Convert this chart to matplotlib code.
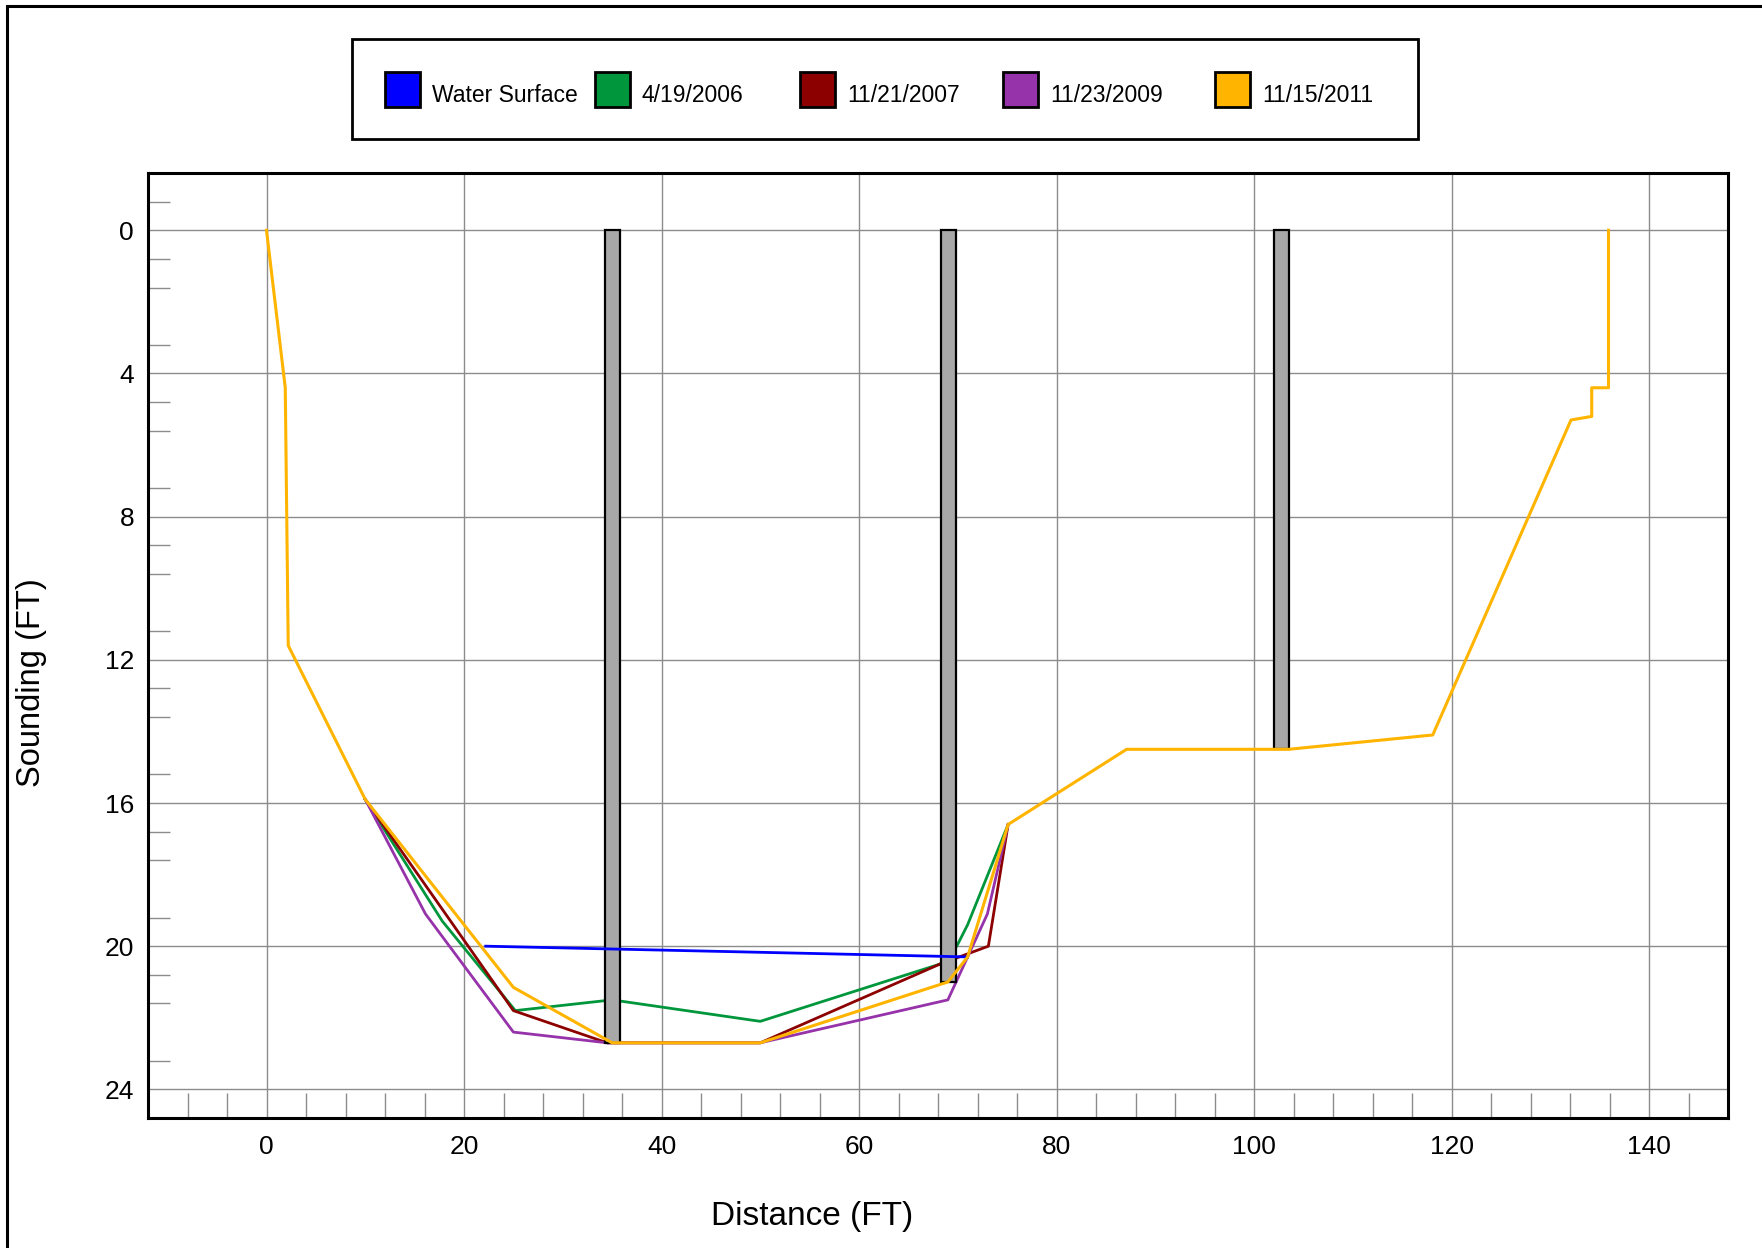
import matplotlib
matplotlib.use("Agg")
from matplotlib import pyplot as plt
from matplotlib.patches import Rectangle
from matplotlib.ticker import MultipleLocator, FixedLocator

plt.rcParams['font.family'] = ['Liberation Sans', 'DejaVu Sans']

# survey profiles (distance ft, sounding ft)
water_x = [22.2, 71.0]
water_y = [20.0, 20.3]

s2006_x = [10, 17.8, 25.2, 35, 50, 68.2, 69.9, 71.0, 75.1]
s2006_y = [15.9, 19.3, 21.8, 21.5, 22.1, 20.5, 20.0, 19.4, 16.6]

s2007_x = [10, 25, 34.5, 50, 68.2, 73.1, 75.1]
s2007_y = [15.9, 21.8, 22.7, 22.7, 20.5, 20.0, 16.6]

s2009_x = [10, 16.1, 25, 34.5, 50, 69, 71, 73, 75.1]
s2009_y = [15.9, 19.1, 22.4, 22.7, 22.7, 21.5, 20.3, 19.1, 16.6]

s2011_x = [0, 1.9, 2.2, 10, 25, 35, 50, 69, 71, 75.1, 87.1, 103.5, 118.1,
           132.1, 134.2, 134.2, 135.9, 135.9]
s2011_y = [0, 4.4, 11.6, 15.9, 21.15, 22.7, 22.7, 21.0, 20.3, 16.6, 14.5, 14.5,
           14.1, 5.3, 5.2, 4.4, 4.4, 0]

# bridge piers
pier_x = [35.05, 69.1, 102.8]
pier_bottom = [22.7, 21.0, 14.5]

labels = ['Water Surface', '4/19/2006', '11/21/2007', '11/23/2009', '11/15/2011']
colors = ['#0000FF', '#00963C', '#8C0000', '#9632AA', '#FFB400']

W, H = 1762, 1248
fig = plt.figure(figsize=(W / 100, H / 100), dpi=100)
ax = fig.add_axes([148 / W, 1 - 1118 / H, (1728 - 148) / W, (1118 - 173) / H])

ax.plot(s2006_x, s2006_y, color=colors[1], lw=2, zorder=3)
ax.plot(s2007_x, s2007_y, color=colors[2], lw=2, zorder=3)
ax.plot(s2009_x, s2009_y, color=colors[3], lw=2, zorder=3)
ax.bar(pier_x, pier_bottom, bottom=0, width=1.5, color='#A8A8A8',
       edgecolor='black', linewidth=1.6, zorder=4)
ax.plot(water_x, water_y, color=colors[0], lw=2, zorder=5)
ax.plot(s2011_x, s2011_y, color=colors[4], lw=2.2, zorder=6)

ax.set_xlim(-12, 148)
ax.set_ylim(24.8, -1.6)
ax.xaxis.set_major_locator(MultipleLocator(20))
ax.yaxis.set_major_locator(MultipleLocator(4))
ax.xaxis.set_minor_locator(FixedLocator([v for v in range(-8, 148, 4) if v % 20 != 0]))
ax.yaxis.set_minor_locator(FixedLocator([-0.8 + 0.8 * i for i in range(32) if (i + 1) % 5 != 0]))
ax.grid(True, which='major', color='#8C8C8C', linewidth=1)
ax.set_axisbelow(True)
ax.tick_params(which='major', length=0, labelsize=19, pad=10)
ax.tick_params(axis='x', which='major', pad=12)
ax.tick_params(which='minor', direction='in', length=18, width=1, color='#8C8C8C')
ax.tick_params(axis='y', which='minor', length=16)
for s in ax.spines.values():
    s.set_linewidth(2.2)

fig.text(812 / W, 1 - 1216 / H, 'Distance (FT)', fontsize=24, ha='center', va='center')
fig.text(32 / W, 1 - 683 / H, 'Sounding (FT)', fontsize=23.5, ha='center', va='center',
         rotation=90)

# legend box
fig.patches.append(Rectangle((352 / W, 1 - 139 / H), (1418 - 352) / W, 100 / H,
                             transform=fig.transFigure, fill=False,
                             edgecolor='black', linewidth=2))
patch_left = [385, 595, 800, 1003, 1215]
for px, lab, col in zip(patch_left, labels, colors):
    fig.patches.append(Rectangle((px / W, 1 - 107 / H), 35 / W, 35 / H,
                                 transform=fig.transFigure, facecolor=col,
                                 edgecolor='black', linewidth=2))
    fig.text((px + 47) / W, 1 - 96 / H, lab, fontsize=16.5, ha='left', va='center')

# outer border
fig.patches.append(Rectangle((7 / W, -0.1), 1.2, 1.1 - 6 / H,
                             transform=fig.transFigure, fill=False,
                             edgecolor='black', linewidth=2.2))

fig.savefig('out.png', dpi=100)
